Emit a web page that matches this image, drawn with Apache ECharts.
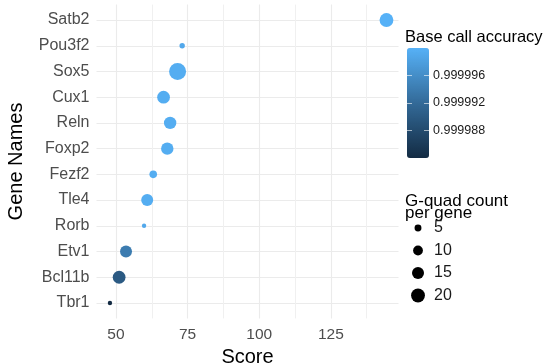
<!DOCTYPE html>
<html>
<head>
<meta charset="utf-8">
<script src="https://cdn.jsdelivr.net/npm/echarts@6/dist/echarts.min.js"></script>
<style>html,body{margin:0;padding:0;background:#fff;}#chart{width:550px;height:363px;}</style>
</head>
<body>
<div id="chart"></div>
<script>
// ---- data (top to bottom) ----
var genes = ['Satb2','Pou3f2','Sox5','Cux1','Reln','Foxp2','Fezf2','Tle4','Rorb','Etv1','Bcl11b','Tbr1'];
var scores = [144.4, 73.1, 71.5, 66.6, 68.9, 67.9, 63.0, 60.9, 59.8, 53.5, 51.1, 47.9];
var accuracy = [1.0, 0.999999, 0.9999995, 0.9999995, 0.9999995, 0.9999995, 0.9999995, 0.9999995, 0.999999, 0.999994, 0.99999, 0.999984];
var gquadCount = [20, 3, 30, 17, 16, 16, 6, 15, 2, 15, 17, 2];
var xTicks = [50, 75, 100, 125];
var xMinorTicks = [62.5, 87.5, 112.5, 137.5];
var accTicks = [0.999988, 0.999992, 0.999996];
var sizeLegend = [5, 10, 15, 20];

function sizeOf(v) { return 3.1 * Math.sqrt(v); }

var mainData = genes.map(function (g, i) { return [scores[i], i, accuracy[i], gquadCount[i], g]; });
var legendData = sizeLegend.map(function (v) { return [0.5, String(v), v]; });
var geneIdx = genes.map(function (g, i) { return i; });

var FONT = 'Liberation Sans, Arial, sans-serif';
var gradStops = ['#132B43', '#336A98', '#56B1F7'];

var chart = echarts.init(document.getElementById('chart'), null, { renderer: 'canvas' });
chart.setOption({
  backgroundColor: '#ffffff',
  animation: false,
  grid: [
    { left: 96.5, top: 4.6, width: 302, height: 313.8, containLabel: false, outerBoundsMode: 'none' },
    { left: 407, top: 48, width: 22, height: 110, containLabel: false, outerBoundsMode: 'none' },
    { left: 403, top: 216.75, width: 30, height: 90, containLabel: false, outerBoundsMode: 'none' }
  ],
  xAxis: [
    { gridIndex: 0, type: 'value', min: 43.2, max: 148.6,
      name: 'Score', nameLocation: 'middle', nameGap: 25,
      nameTextStyle: { fontFamily: FONT, fontSize: 20, color: '#000' },
      axisLine: { show: false },
      axisTick: { show: false, customValues: xTicks },
      axisLabel: { customValues: xTicks, margin: 8, fontFamily: FONT, fontSize: 15.5, color: '#4d4d4d' },
      splitLine: { show: true, lineStyle: { color: '#ebebeb', width: 1.1 } } },
    { gridIndex: 0, type: 'value', min: 43.2, max: 148.6, position: 'top',
      axisLine: { show: false },
      axisTick: { show: false, customValues: xMinorTicks },
      axisLabel: { show: false },
      splitLine: { show: true, lineStyle: { color: '#f0f0f0', width: 1 } } },
    { gridIndex: 1, type: 'value', show: false, min: 0, max: 1 },
    { gridIndex: 2, type: 'value', show: false, min: 0, max: 1 }
  ],
  yAxis: [
    { gridIndex: 0, type: 'value', inverse: true, min: -0.6, max: 11.6,
      name: 'Gene Names', nameLocation: 'middle', nameGap: 70,
      nameTextStyle: { fontFamily: FONT, fontSize: 20, color: '#000' },
      axisLine: { show: false },
      axisTick: { show: false, customValues: geneIdx },
      axisLabel: { customValues: geneIdx, margin: 7, fontFamily: FONT, fontSize: 16, color: '#4d4d4d',
        formatter: function (v) { return genes[Math.round(v)]; } },
      splitLine: { show: true, lineStyle: { color: '#ebebeb', width: 1.1 } } },
    { gridIndex: 1, type: 'value', min: 0.999984, max: 1.0, position: 'left', z: 10,
      axisLine: { show: false },
      axisTick: { show: true, inside: true, length: 5, customValues: accTicks, lineStyle: { color: 'rgba(255,255,255,0.6)', width: 1 } },
      axisLabel: { show: false },
      splitLine: { show: false } },
    { gridIndex: 1, type: 'value', min: 0.999984, max: 1.0, position: 'right', z: 10,
      axisLine: { show: false },
      axisTick: { show: true, inside: true, length: 5, customValues: accTicks, lineStyle: { color: 'rgba(255,255,255,0.6)', width: 1 } },
      axisLabel: { show: true, inside: false, margin: 4, customValues: accTicks, fontFamily: FONT, fontSize: 12.5, color: '#1a1a1a',
        formatter: function (v) { return v.toFixed(6); } },
      splitLine: { show: false } },
    { gridIndex: 2, type: 'category', inverse: true, position: 'right',
      data: sizeLegend.map(String),
      axisLine: { show: false }, axisTick: { show: false },
      axisLabel: { margin: 1, fontFamily: FONT, fontSize: 16, color: '#1a1a1a' },
      splitLine: { show: false } }
  ],
  visualMap: [{
    type: 'continuous', show: true, seriesIndex: 0, dimension: 2,
    min: 0.999984, max: 1.0, calculable: false, hoverLink: false,
    left: 407, top: 48, itemWidth: 22, itemHeight: 110, padding: 0,
    text: null, showLabel: false,
    inRange: { color: gradStops }
  }],
  graphic: [
    { type: 'text', left: 405, top: 29, style: { text: 'Base call accuracy', font: '16.5px ' + FONT, fill: '#000' } },
    { type: 'text', left: 405, top: 193, style: { text: 'G-quad count\nper gene', font: '17px ' + FONT, fill: '#000', lineHeight: 12 } }
  ],
  series: [
    { type: 'scatter', xAxisIndex: 0, yAxisIndex: 0, data: mainData,
      symbolSize: function (d) { return sizeOf(d[3]); },
      itemStyle: { opacity: 1 }, emphasis: { disabled: true } },
    { type: 'scatter', xAxisIndex: 3, yAxisIndex: 3, data: legendData,
      symbolSize: function (d) { return sizeOf(d[2]); },
      itemStyle: { color: '#000', opacity: 1 }, emphasis: { disabled: true } }
  ]
});
</script>
</body>
</html>
